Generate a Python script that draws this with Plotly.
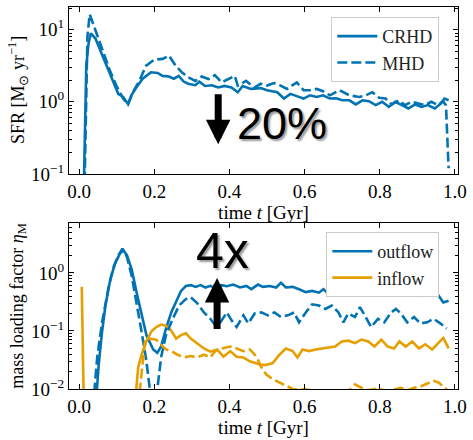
import plotly.graph_objects as go

BLUE = "#0173b2"
ORANGE = "#e69f00"
SERIF = "Liberation Serif"
SANS = "Liberation Sans"

# ---- top panel: star formation rate (Msun / yr) ----
t_crhd = [0.012, 0.019, 0.025, 0.031, 0.043, 0.056, 0.073, 0.091, 0.104, 0.117,
          0.130, 0.139, 0.152, 0.169, 0.191, 0.209, 0.222, 0.239, 0.252, 0.265,
          0.278, 0.290, 0.309, 0.320, 0.335, 0.353, 0.370, 0.387, 0.405, 0.422,
          0.435, 0.457, 0.483, 0.500, 0.527, 0.545, 0.562, 0.579, 0.597, 0.614,
          0.632, 0.649, 0.667, 0.684, 0.700, 0.719, 0.736, 0.754, 0.771, 0.789,
          0.806, 0.824, 0.841, 0.859, 0.876, 0.894, 0.911, 0.928, 0.946, 0.963,
          0.972, 0.983]
sfr_crhd = [0.05, 3.16, 6.46, 8.9, 7.6, 5.25, 3.16, 1.86, 1.29, 1.17,
            0.93, 1.23, 1.58, 2.09, 2.57, 2.51, 2.29, 2.24, 2.09, 2.29,
            1.91, 1.78, 1.70, 1.90, 1.66, 1.70, 1.58, 1.66, 1.58, 1.36,
            1.66, 1.51, 1.55, 1.45, 1.36, 1.11, 1.29, 1.20, 1.11, 1.23,
            1.17, 1.23, 1.11, 1.12, 1.05, 1.05, 0.92, 1.05, 1.02, 0.90,
            1.00, 0.85, 1.00, 0.90, 0.81, 0.92, 0.85, 0.90, 0.81, 0.95,
            1.11, 1.05]

t_mhd = [0.014, 0.022, 0.028, 0.047, 0.065, 0.082, 0.099, 0.117, 0.130, 0.143,
         0.160, 0.178, 0.200, 0.222, 0.239, 0.257, 0.274, 0.290, 0.309, 0.326,
         0.344, 0.361, 0.379, 0.396, 0.414, 0.422, 0.444, 0.466, 0.483, 0.500,
         0.518, 0.536, 0.553, 0.579, 0.597, 0.614, 0.632, 0.649, 0.667, 0.693,
         0.719, 0.745, 0.763, 0.780, 0.798, 0.815, 0.832, 0.850, 0.867, 0.885,
         0.902, 0.920, 0.937, 0.955, 0.968, 0.976, 0.983]
sfr_mhd = [0.05, 8.0, 16.4, 8.9, 4.8, 2.7, 1.68, 1.11, 0.92, 1.36,
           1.95, 3.16, 3.85, 3.94, 4.37, 3.16, 2.54, 2.19, 1.95, 2.24,
           2.07, 2.34, 1.86, 2.07, 2.29, 1.68, 1.95, 1.58, 1.78, 1.68,
           1.82, 1.68, 1.51, 1.86, 1.45, 1.45, 1.51, 1.40, 1.23, 1.45,
           1.23, 1.17, 1.23, 1.36, 1.14, 1.11, 0.92, 1.05, 0.90, 1.00,
           0.95, 0.90, 1.00, 0.90, 1.02, 0.90, 0.12]

# ---- bottom panel: mass loading factor ----
t_out_crhd = [0.044, 0.052, 0.061, 0.070, 0.083, 0.096, 0.109, 0.118, 0.127, 0.140,
              0.153, 0.166, 0.179, 0.197, 0.208, 0.218, 0.231, 0.245, 0.258, 0.271,
              0.284, 0.297, 0.310, 0.323, 0.336, 0.349, 0.367, 0.380, 0.393, 0.410,
              0.428, 0.445, 0.458, 0.476, 0.489, 0.507, 0.524, 0.537, 0.550, 0.568,
              0.585, 0.603, 0.620, 0.638, 0.650, 0.664, 0.681, 0.699, 0.716, 0.734,
              0.751, 0.769, 0.786, 0.804, 0.821, 0.843, 0.860, 0.882, 0.900, 0.917,
              0.934, 0.952, 0.969, 0.983]
out_crhd = [0.005, 0.026, 0.098, 0.275, 0.78, 1.48, 2.19, 2.45, 2.04, 1.14,
            0.457, 0.186, 0.085, 0.048, 0.042, 0.054, 0.11, 0.209, 0.331, 0.49,
            0.596, 0.617, 0.575, 0.617, 0.562, 0.60, 0.525, 0.617, 0.59, 0.63,
            0.562, 0.596, 0.525, 0.63, 0.575, 0.596, 0.562, 0.676, 0.562, 0.575,
            0.525, 0.468, 0.49, 0.457, 0.525, 0.427, 0.447, 0.427, 0.457, 0.447,
            0.525, 0.427, 0.468, 0.407, 0.457, 0.562, 0.447, 0.525, 0.407, 0.457,
            0.417, 0.447, 0.309, 0.331]

t_out_mhd = [0.037, 0.048, 0.061, 0.079, 0.092, 0.105, 0.115, 0.127, 0.140, 0.153,
             0.166, 0.179, 0.188, 0.198, 0.208, 0.218, 0.231, 0.249, 0.266, 0.284,
             0.297, 0.314, 0.332, 0.349, 0.362, 0.376, 0.393, 0.406, 0.419, 0.437,
             0.450, 0.467, 0.485, 0.502, 0.520, 0.537, 0.555, 0.572, 0.585, 0.603,
             0.620, 0.638, 0.655, 0.672, 0.690, 0.703, 0.716, 0.734, 0.747, 0.760,
             0.777, 0.795, 0.812, 0.830, 0.843, 0.856, 0.873, 0.891, 0.908, 0.926,
             0.943, 0.961, 0.978]
out_mhd = [0.005, 0.035, 0.141, 0.596, 1.29, 2.04, 2.63, 1.91, 0.88, 0.309,
           0.098, 0.030, 0.010, 0.006, 0.0098, 0.035, 0.085, 0.162, 0.275, 0.355,
           0.38, 0.302, 0.209, 0.162, 0.126, 0.141, 0.209, 0.151, 0.117, 0.186,
           0.135, 0.20, 0.209, 0.186, 0.209, 0.174, 0.186, 0.209, 0.141, 0.209,
           0.288, 0.275, 0.24, 0.275, 0.209, 0.141, 0.20, 0.174, 0.257, 0.186,
           0.117, 0.162, 0.141, 0.209, 0.24, 0.20, 0.141, 0.174, 0.135, 0.141,
           0.162, 0.135, 0.11]

t_in_crhd = [0.007, 0.013, None, 0.148, 0.157, 0.166, 0.179, 0.192, 0.205, 0.218,
             0.231, 0.245, 0.258, 0.271, 0.284, 0.297, 0.314, 0.332, 0.349, 0.367,
             0.384, 0.402, 0.419, 0.437, 0.454, 0.472, 0.485, 0.498, 0.515, 0.533,
             0.550, 0.568, 0.581, 0.594, 0.612, 0.629, 0.646, 0.664, 0.681, 0.699,
             0.716, 0.734, 0.751, 0.769, 0.786, 0.804, 0.821, 0.838, 0.852, 0.869,
             0.886, 0.904, 0.921, 0.939, 0.956, 0.969, 0.983]
in_crhd = [0.58, 0.003, None, 0.005, 0.0234, 0.039, 0.066, 0.098, 0.117, 0.129,
           0.123, 0.102, 0.074, 0.085, 0.091, 0.074, 0.062, 0.050, 0.044, 0.048,
           0.036, 0.045, 0.036, 0.035, 0.030, 0.028, 0.026, 0.026, 0.028, 0.039,
           0.050, 0.045, 0.035, 0.048, 0.045, 0.048, 0.050, 0.052, 0.054, 0.066,
           0.068, 0.062, 0.071, 0.066, 0.054, 0.071, 0.054, 0.050, 0.066, 0.054,
           0.066, 0.050, 0.059, 0.048, 0.062, 0.076, 0.050]

t_in_mhd = [0.157, 0.166, 0.175, 0.188, 0.205, 0.218, 0.231, 0.245, 0.262, 0.280,
            0.297, 0.314, 0.332, 0.349, 0.362, 0.380, 0.402, 0.419, 0.437, 0.454,
            0.472, 0.485, 0.498, 0.515, 0.533, 0.550, 0.568, 0.585, 0.603, 0.620,
            0.638, 0.655, 0.672, 0.690, 0.707, 0.724, 0.734, 0.751, 0.769, 0.786,
            0.804, 0.821, 0.838, 0.856, 0.873, 0.891, 0.908, 0.926, 0.943, 0.956,
            0.969, 0.978]
in_mhd = [0.005, 0.020, 0.066, 0.074, 0.071, 0.058, 0.048, 0.045, 0.039, 0.035,
          0.037, 0.035, 0.039, 0.035, 0.045, 0.050, 0.054, 0.050, 0.045, 0.048,
          0.036, 0.0234, 0.0178, 0.0148, 0.0129, 0.0115, 0.0100, 0.0097, 0.0099, 0.0094,
          0.0090, 0.0085, 0.0088, 0.0085, 0.0090, 0.0100, 0.012, 0.0105, 0.0095, 0.0100,
          0.0098, 0.0092, 0.0098, 0.0105, 0.0095, 0.0105, 0.011, 0.0125, 0.0138, 0.013,
          0.0112, 0.0098]

x_ticks = [0.0, 0.2, 0.4, 0.6, 0.8, 1.0]
x_ticktext = ["0.0", "0.2", "0.4", "0.6", "0.8", "1.0"]
sfr_ticks = [0.1, 1, 10]
sfr_ticktext = ["10<sup>\u22121</sup>", "10<sup>0</sup>", "10<sup>1</sup>"]
eta_ticks = [0.01, 0.1, 1]
eta_ticktext = ["10<sup>\u22122</sup>", "10<sup>\u22121</sup>", "10<sup>0</sup>"]

DASH = "10px,4px"
LW = 2.6

fig = go.Figure()
fig.add_trace(go.Scatter(x=t_crhd, y=sfr_crhd, mode="lines", name="CRHD",
                         line=dict(color=BLUE, width=LW), xaxis="x", yaxis="y",
                         legend="legend"))
fig.add_trace(go.Scatter(x=t_mhd, y=sfr_mhd, mode="lines", name="MHD",
                         line=dict(color=BLUE, width=LW, dash=DASH), xaxis="x", yaxis="y",
                         legend="legend"))
fig.add_trace(go.Scatter(x=t_out_crhd, y=out_crhd, mode="lines", name="outflow",
                         line=dict(color=BLUE, width=LW), xaxis="x2", yaxis="y2",
                         legend="legend2"))
fig.add_trace(go.Scatter(x=t_in_crhd, y=in_crhd, mode="lines", name="inflow",
                         line=dict(color=ORANGE, width=LW), xaxis="x2", yaxis="y2",
                         legend="legend2"))
fig.add_trace(go.Scatter(x=t_out_mhd, y=out_mhd, mode="lines", showlegend=False,
                         line=dict(color=BLUE, width=LW, dash=DASH), xaxis="x2", yaxis="y2"))
fig.add_trace(go.Scatter(x=t_in_mhd, y=in_mhd, mode="lines", showlegend=False,
                         line=dict(color=ORANGE, width=LW, dash=DASH), xaxis="x2", yaxis="y2"))


def minor_vals(lo, hi):
    out = []
    for e in range(lo, hi + 1):
        for m in range(2, 10):
            out.append(m * 10 ** e)
    return out


xaxis_style = dict(range=[-0.027, 1.008], tickvals=x_ticks, ticktext=x_ticktext,
                   ticks="inside", ticklen=5, tickwidth=1.2, tickcolor="black",
                   showline=True, linecolor="black", linewidth=1.3, mirror="allticks",
                   showgrid=False, zeroline=False,
                   tickfont=dict(family=SERIF, size=19, color="black"),
                   title=dict(text="time <i>t</i> [Gyr]", standoff=4,
                              font=dict(family=SERIF, size=19, color="black")))

yaxis_style = dict(type="log", ticks="inside", ticklen=5, tickwidth=1.2, tickcolor="black",
                   showline=True, linecolor="black", linewidth=1.3, mirror="allticks",
                   showgrid=False, zeroline=False,
                   tickfont=dict(family=SERIF, size=19, color="black"))

legend_style = dict(xanchor="right", yanchor="top", itemwidth=40,
                    bgcolor="white", bordercolor="#cccccc", borderwidth=1,
                    font=dict(family=SERIF, size=18, color="#222222"))

fig.update_layout(
    width=473, height=440,
    margin=dict(l=69, r=9, t=6, b=45),
    paper_bgcolor="white", plot_bgcolor="white",
    xaxis=dict(domain=[0, 1], anchor="y", **xaxis_style),
    yaxis=dict(domain=[0.563, 1], anchor="x", range=[-1, 1.315],
               tickvals=sfr_ticks, ticktext=sfr_ticktext,
               minor=dict(tickmode="array", tickvals=minor_vals(-1, 1), ticks="inside",
                          ticklen=3, tickcolor="black", showgrid=False),
               **yaxis_style),
    xaxis2=dict(domain=[0, 1], anchor="y2", **xaxis_style),
    yaxis2=dict(domain=[0, 0.4344], anchor="x2", range=[-2, 0.86],
                tickvals=eta_ticks, ticktext=eta_ticktext,
                minor=dict(tickmode="array", tickvals=minor_vals(-2, 0), ticks="inside",
                           ticklen=3, tickcolor="black", showgrid=False),
                **yaxis_style),
    legend=dict(x=0.952, y=0.974, **legend_style),
    legend2=dict(x=0.952, y=0.411, **legend_style),
)

# y axis titles sit between the tick labels, as in the original
fig.add_annotation(xref="x domain", yref="y domain", x=-0.132, y=0.5,
                   xanchor="center", yanchor="middle",
                   text="SFR [M<sub>\u2299</sub> yr<sup>\u22121</sup>]", textangle=-90,
                   showarrow=False, font=dict(family=SERIF, size=18, color="black"))
fig.add_annotation(xref="x2 domain", yref="y2 domain", x=-0.132, y=0.5,
                   xanchor="center", yanchor="middle",
                   text="mass loading factor <i>\u03b7</i><sub>M</sub>", textangle=-90,
                   showarrow=False, font=dict(family=SERIF, size=18, color="black"))

# arrows and big labels
fig.add_annotation(xref="x", yref="y", x=0.37, y=-0.59, axref="x", ayref="y",
                   ax=0.37, ay=0.126, text="", showarrow=True, arrowhead=2,
                   arrowsize=0.7, arrowwidth=7, arrowcolor="black", standoff=0)
fig.add_annotation(xref="x", yref="y", x=0.54, y=-0.30, text="20%", showarrow=False,
                   font=dict(family=SANS, size=45, color="black", shadow="2px 2px 2px #999"))
fig.add_annotation(xref="x2", yref="y2", x=0.367, y=-0.085, axref="x2", ayref="y2",
                   ax=0.367, ay=-0.99, text="", showarrow=True, arrowhead=2,
                   arrowsize=0.7, arrowwidth=7, arrowcolor="black", standoff=0)
fig.add_annotation(xref="x2", yref="y2", x=0.382, y=0.385, text="4x", showarrow=False,
                   font=dict(family=SANS, size=50, color="black", shadow="2px 2px 2px #999"))

# drop the page's default body margin so the figure sits at the window's corner
fig.write_html("out.html", config={"displayModeBar": False},
               post_script="document.body.style.margin='0';")
